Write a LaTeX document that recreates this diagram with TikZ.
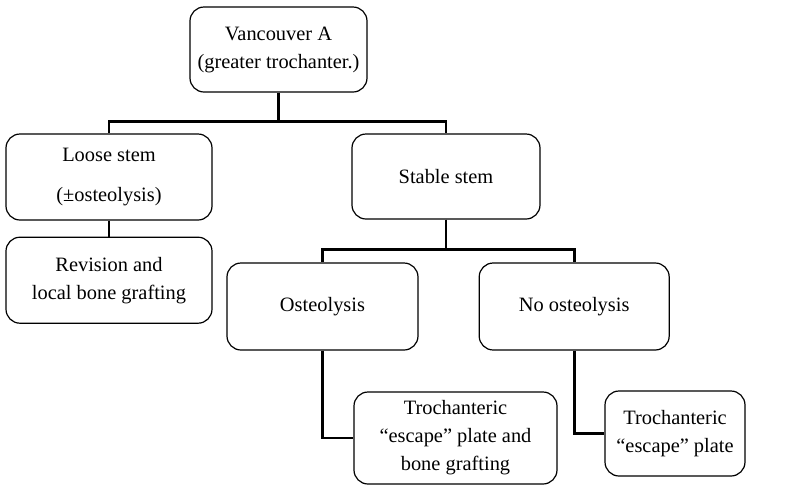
\documentclass[tikz,border=0pt]{standalone}
\usepackage{fontspec}
\setmainfont{Liberation Serif}
\usetikzlibrary{positioning}

\begin{document}
\begin{tikzpicture}[x=0.5pt, y=-0.5pt,
  every node/.style={font=\fontsize{10.2}{14}\selectfont},
  box/.style={draw, rounded corners=7pt, line width=0.6pt, align=center, inner sep=0pt},
  link/.style={line width=1.4pt}]
\useasboundingbox (0,0) rectangle (794,488);
\node[box, minimum width=88.5pt, minimum height=42.5pt] (root) at (278.5,49.5) {Vancouver A\\(greater trochanter.)};
\node[box, minimum width=103pt, minimum height=43pt] (loose) at (109,177) {Loose stem\\[6pt](±osteolysis)};
\node[box, minimum width=103pt, minimum height=43pt, below=8pt of loose] (revision) {Revision and\\local bone grafting};
\node[box, minimum width=94pt, minimum height=42.5pt] (stable) at (446,176.5) {Stable stem};
\node[box, minimum width=95.5pt, minimum height=43.5pt] (osteo) at (322.5,306.5) {Osteolysis};
\node[box, minimum width=95pt, minimum height=43.5pt, right=30pt of osteo] (noosteo) {No osteolysis};
\node[box, minimum width=101.5pt, minimum height=46pt] (troch1) at (455.5,438) {Trochanteric\\“escape” plate and\\bone grafting};
\node[box, minimum width=70pt, minimum height=42.5pt] (troch2) at (675,433.5) {Trochanteric\\“escape” plate};
\draw[link] (root.south) -- ++(0,29) -| (loose.north);
\draw[link] (root.south) -- ++(0,29) -| (stable.north);
\draw[link] (loose) -- (revision);
\draw[link] (stable.south) -- ++(0,30) -| (osteo.north);
\draw[link] (stable.south) -- ++(0,30) -| (noosteo.north);
\draw[link] (osteo.south) |- (troch1.west);
\draw[link] (noosteo.south) |- (troch2.west);
\end{tikzpicture}
\end{document}
